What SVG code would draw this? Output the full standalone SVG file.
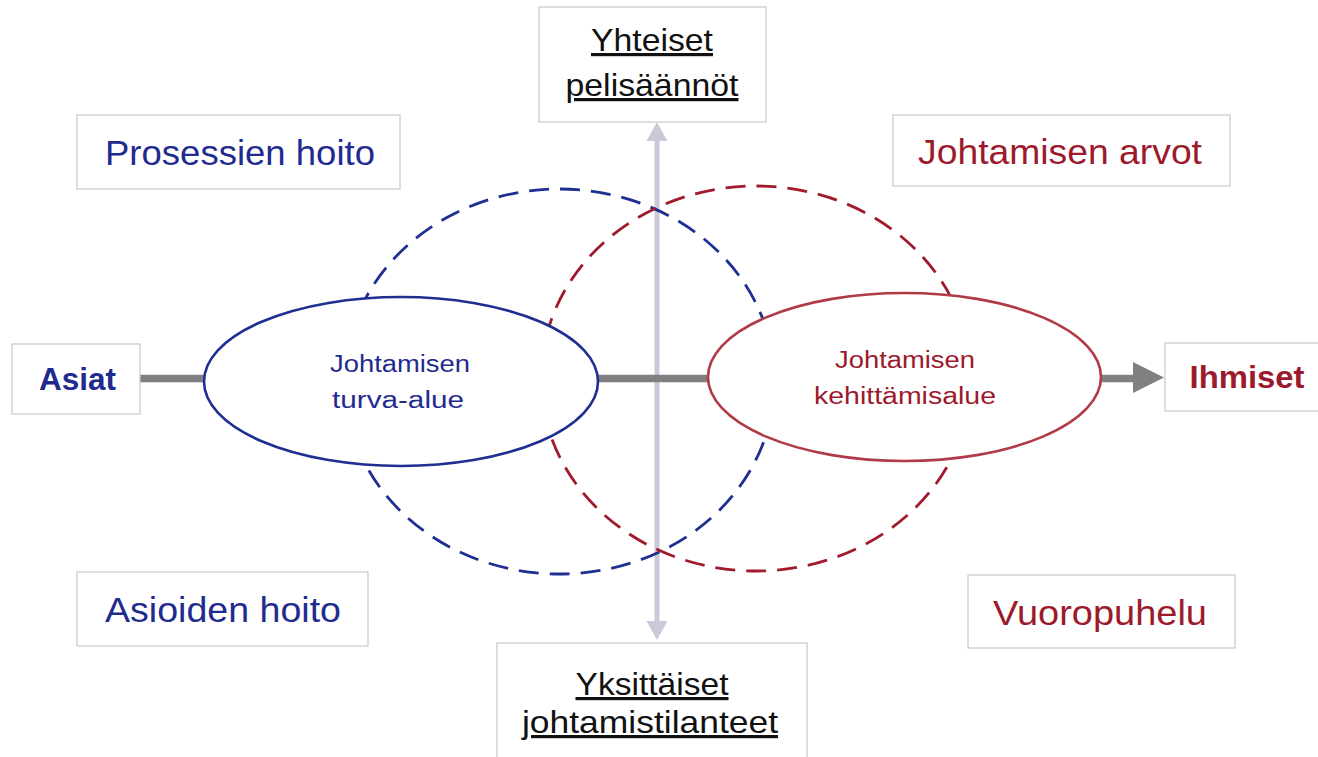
<svg xmlns="http://www.w3.org/2000/svg" width="1318" height="757" viewBox="0 0 1318 757">
<style>
.box{fill:#fff;stroke:#c8c8c8;stroke-width:1.2}
.t{font-family:"Liberation Sans",Arial,sans-serif;text-anchor:middle}
.blue{fill:#1f2b8e}
.red{fill:#9c1a2c}
.blk{fill:#111;text-decoration:underline;text-decoration-thickness:2.5px;text-underline-offset:4px}
.dashB{fill:none;stroke:#1f2f91;stroke-width:2.8;stroke-dasharray:20 11}
.dashR{fill:none;stroke:#a01a2c;stroke-width:2.8;stroke-dasharray:20 11}
</style>
<rect width="1318" height="757" fill="#fff"/>
<g id="connectors">
<line x1="657" y1="140" x2="657" y2="622" stroke="#c9c9da" stroke-width="5"/>
<polygon points="657,122 646.5,141 667.5,141" fill="#c9c9da"/>
<polygon points="657,640 646.5,621 667.5,621" fill="#c9c9da"/>
</g>
<g id="dashed-circles">
<ellipse class="dashB" cx="559.5" cy="381.5" rx="215" ry="192.5"/>
<ellipse class="dashR" cx="756" cy="378.5" rx="215" ry="192.5"/>
</g>
<g id="axis">
<line x1="140" y1="378.5" x2="1136" y2="378.5" stroke="#808080" stroke-width="7.5"/>
<polygon points="1164,377.5 1133,362 1133,393" fill="#808080"/>
</g>
<g id="turva-alue">
<ellipse cx="401" cy="381.5" rx="197" ry="84.5" fill="#fff" stroke="#1f2f91" stroke-width="2.6"/>
<text class="t blue" x="400" y="372" font-size="23" textLength="140" lengthAdjust="spacingAndGlyphs">Johtamisen</text>
<text class="t blue" x="398" y="408" font-size="23" textLength="132" lengthAdjust="spacingAndGlyphs">turva-alue</text>
</g>
<g id="kehittamisalue">
<ellipse cx="904.5" cy="377" rx="196.5" ry="84" fill="#fff" stroke="#b03a48" stroke-width="2.6"/>
<text class="t red" x="905" y="368" font-size="23" textLength="140" lengthAdjust="spacingAndGlyphs">Johtamisen</text>
<text class="t red" x="905" y="404" font-size="23" textLength="182" lengthAdjust="spacingAndGlyphs">kehittämisalue</text>
</g>
<g id="yhteiset">
<rect class="box" x="539" y="7" width="227" height="115"/>
<text class="t blk" x="652" y="51" font-size="32" textLength="122" lengthAdjust="spacingAndGlyphs">Yhteiset</text>
<text class="t blk" x="652" y="96" font-size="32" textLength="173" lengthAdjust="spacingAndGlyphs">pelisäännöt</text>
</g>
<g id="yksittaiset">
<rect class="box" x="497" y="643" width="310" height="120"/>
<text class="t blk" x="652" y="695" font-size="32" textLength="153" lengthAdjust="spacingAndGlyphs">Yksittäiset</text>
<text class="t blk" x="650" y="733" font-size="32" textLength="256" lengthAdjust="spacingAndGlyphs">johtamistilanteet</text>
</g>
<g id="prosessien">
<rect class="box" x="77" y="115" width="323" height="74"/>
<text class="t blue" x="240" y="165" font-size="35" textLength="270" lengthAdjust="spacingAndGlyphs">Prosessien hoito</text>
</g>
<g id="arvot">
<rect class="box" x="893" y="115" width="337" height="71"/>
<text class="t red" x="1060" y="164" font-size="35" textLength="284" lengthAdjust="spacingAndGlyphs">Johtamisen arvot</text>
</g>
<g id="asioiden">
<rect class="box" x="77" y="572" width="291" height="74"/>
<text class="t blue" x="223" y="622" font-size="35" textLength="236" lengthAdjust="spacingAndGlyphs">Asioiden hoito</text>
</g>
<g id="vuoropuhelu">
<rect class="box" x="968" y="575" width="267" height="73"/>
<text class="t red" x="1100" y="625" font-size="35" textLength="214" lengthAdjust="spacingAndGlyphs">Vuoropuhelu</text>
</g>
<g id="asiat">
<rect class="box" x="12" y="344" width="128" height="70"/>
<text class="t blue" x="77.5" y="390" font-size="32" font-weight="bold" textLength="77" lengthAdjust="spacingAndGlyphs">Asiat</text>
</g>
<g id="ihmiset">
<rect class="box" x="1165" y="343" width="160" height="68"/>
<text class="t red" x="1247" y="388" font-size="32" font-weight="bold" textLength="115" lengthAdjust="spacingAndGlyphs">Ihmiset</text>
</g>
</svg>
